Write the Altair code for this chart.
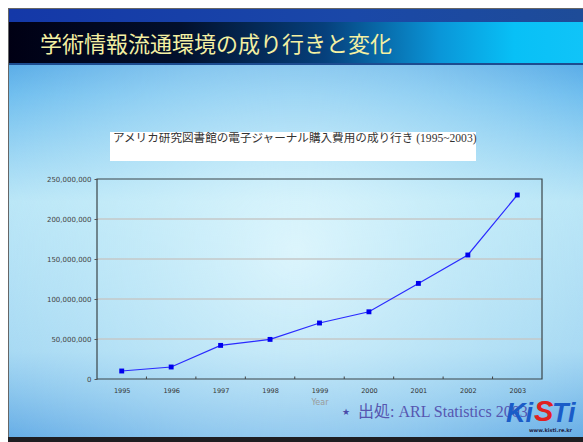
import altair as alt
import pandas as pd

# ---- data ----
years = [1995, 1996, 1997, 1998, 1999, 2000, 2001, 2002, 2003]
spend = [10_000_000, 15_000_000, 42_000_000, 49_500_000, 70_000_000,
         84_000_000, 119_500_000, 155_000_000, 230_000_000]
y_ticks = [0, 50_000_000, 100_000_000, 150_000_000, 200_000_000, 250_000_000]
grid_vals = [50_000_000, 100_000_000, 150_000_000, 200_000_000]
half_years = [1995.5, 1996.5, 1997.5, 1998.5, 1999.5, 2000.5, 2001.5, 2002.5]

slide_title = "学術情報流通環境の成り行きと変化"
chart_title = "アメリカ研究図書館の電子ジャーナル購入費用の成り行き (1995~2003)"
source_text = "出処: ARL Statistics 2003"

W, H = 445, 200
PL, PT, PR, PB = 97, 179, 41, 63

df = pd.DataFrame({"year": years, "spend": spend})
one = alt.InlineData(values=[{"k": 0}])

xscale = alt.Scale(domain=[1994.5, 2003.5], nice=False, zero=False)
yscale = alt.Scale(domain=[0, 250_000_000], nice=False)


def box(x1, x2, y1, y2, **kw):
    # canvas pixel coordinates -> plot coordinates
    return alt.Chart(one).mark_rect(**kw).encode(
        x=alt.value(x1 - PL), x2=alt.value(x2 - PL),
        y=alt.value(y1 - PT), y2=alt.value(y2 - PT))


def label(txt, x, y, **kw):
    return alt.Chart(one).mark_text(**kw).encode(
        x=alt.value(x - PL), y=alt.value(y - PT), text=alt.value(txt))


def stops(pairs):
    return [alt.GradientStop(offset=o, color=c) for o, c in pairs]


bg = box(9, 583, 9, 437, fill=alt.LinearGradient(
    gradient="linear", x1=0, y1=0, x2=0, y2=1,
    stops=stops([(0, "#3a90da"), (0.2, "#6cbcee"), (0.45, "#b6e4f6"),
                 (0.8, "#a2d6f2"), (1, "#66ade6")])))
glow = box(9, 583, 9, 437, fill=alt.RadialGradient(
    gradient="radial", x1=0.5, y1=0.55, r1=0, x2=0.5, y2=0.55, r2=0.6,
    stops=stops([(0, "rgba(235,252,255,0.75)"), (0.6, "rgba(215,245,252,0.35)"),
                 (1, "rgba(215,245,252,0)")])))
topband = box(9, 583, 9, 22, fill=alt.LinearGradient(
    gradient="linear", x1=0, y1=0, x2=1, y2=0,
    stops=stops([(0, "#1438a8"), (0.6, "#1a48a8"), (1, "#1e4c98")])))
titlebar = box(9, 583, 22, 63, fill=alt.LinearGradient(
    gradient="linear", x1=0, y1=0, x2=1, y2=0,
    stops=stops([(0, "#000014"), (0.3, "#02102c"), (0.55, "#06407c"),
                 (0.75, "#0a96d8"), (0.88, "#08c0f6"), (1, "#10c4f8")])))
underline = box(9, 583, 63, 65, fill="#1c4c90")
leftline = box(8, 9, 8, 437, fill="#666666")
topline = box(8, 583, 8, 9, fill="#666666")
bottom = box(8, 583, 437, 442, fill="#1e1e22")

title_txt = label(slide_title, 40, 45, align="left", baseline="middle",
                  font="Noto Sans CJK JP", fontSize=22, color="#f4f0a2")

title_box = box(110, 476, 132, 161, fill="white")
ctitle_txt = label(chart_title, 113, 139, align="left", baseline="middle",
                   font="Liberation Serif, Noto Sans CJK JP", fontSize=11.6,
                   color="#333333")

xaxis = alt.Axis(values=years, format="d", ticks=False, domain=False,
                 grid=False, labelFont="DejaVu Sans", labelFontSize=6.5,
                 labelColor="#333333", labelPadding=8, title="Year",
                 titleFont="DejaVu Sans", titleFontSize=8,
                 titleFontWeight="normal", titleColor="#9a9a9a",
                 titlePadding=5, zindex=1)
yaxis = alt.Axis(values=y_ticks, format=",d", domain=False, grid=False,
                 tickSize=3, tickColor="#555555",
                 labelFont="DejaVu Sans", labelFontSize=7,
                 labelColor="#444444", labelPadding=3, title="",
                 zindex=1)

grid = alt.Chart(pd.DataFrame({"spend": grid_vals})).mark_rule(
    color="#c4c8c8", strokeWidth=1.3).encode(
    y=alt.Y("spend:Q", scale=yscale, axis=yaxis))

xticks = alt.Chart(pd.DataFrame({"year": half_years})).mark_rule(
    color="#444444").encode(
    x=alt.X("year:Q", scale=xscale, axis=xaxis),
    y=alt.value(H - 2.5), y2=alt.value(H))

frame = alt.Chart(one).mark_rect(fill=None, stroke="#3a4448", strokeWidth=1.2).encode(
    x=alt.value(0), x2=alt.value(W), y=alt.value(0), y2=alt.value(H))

base = alt.Chart(df).encode(
    x=alt.X("year:Q", scale=xscale, axis=xaxis),
    y=alt.Y("spend:Q", scale=yscale, axis=yaxis))
line = base.mark_line(color="#2a2aff", strokeWidth=1.2)
pts = base.mark_point(shape="square", filled=True, size=24, color="#0000ee",
                      opacity=1)

star = label("★", 346, 412, align="center", baseline="middle",
             font="DejaVu Sans", fontSize=9, color="#4a4aa8")
src = label(source_text, 358, 412, align="left", baseline="middle",
            font="Liberation Serif, Noto Sans CJK JP", fontSize=16,
            color="#5656b0")

logo_ki = label("Ki", 506, 414, align="left", baseline="middle",
                font="Liberation Sans", fontSize=27, fontWeight="bold",
                fontStyle="italic", color="#1a5cc8")
logo_s = label("S", 534, 412, align="left", baseline="middle",
               font="Liberation Sans", fontSize=29, fontWeight="bold",
               fontStyle="italic", color="#e02020")
logo_ti = label("Ti", 552, 414, align="left", baseline="middle",
                font="Liberation Sans", fontSize=27, fontWeight="bold",
                fontStyle="italic", color="#1a5cc8")
logo_url = label("www.kisti.re.kr", 572, 430, align="right", baseline="middle",
                 font="DejaVu Sans", fontSize=5, fontWeight="bold",
                 color="#222244")

chart = alt.layer(
    bg, glow, topband, titlebar, underline, leftline, topline, bottom,
    title_txt, title_box, ctitle_txt,
    grid, xticks, frame, line, pts,
    star, src, logo_ki, logo_s, logo_ti, logo_url,
).properties(
    width=W, height=H,
    padding={"left": PL, "top": PT, "right": PR, "bottom": PB},
    autosize=alt.AutoSizeParams(type="none"),
    background="white",
).configure_view(stroke=None)

chart.save("out.html", embed_options={"renderer": "svg", "actions": False})
